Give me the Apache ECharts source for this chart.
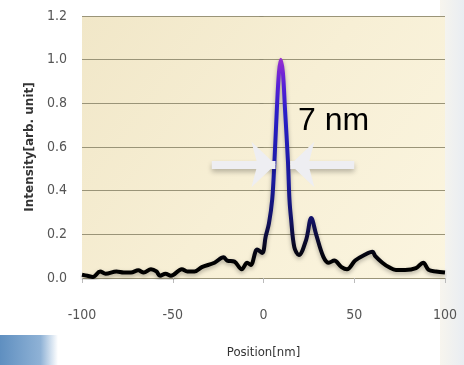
<!DOCTYPE html>
<html><head><meta charset="utf-8">
<script src="https://cdn.jsdelivr.net/npm/echarts@6/dist/echarts.min.js"></script>
<style>html,body{margin:0;padding:0;background:#fff}#c{width:464px;height:365px}</style>
</head><body><div id="c"></div>
<script>
// Position [nm]
const positions = [-100,-97,-94,-90,-87,-81,-77,-73,-69,-66,-62,-59,-57,-54,-51,-45,-42,-38,-34,-27,-22,-20,-16,-12,-9,-7,-3.5,-0.7,1.2,3,4.8,6,7.4,8.5,9.5,10.7,11.8,13.5,14.3,15.2,17,19.5,23.5,26.3,29,33,36,39,43,46,50.5,55.5,60,61.6,65.5,69,73,78,84,88,91,95,100];
// Intensity [arb. unit]
const intensity = [0.015,0.01,0.005,0.03,0.02,0.03,0.025,0.025,0.035,0.025,0.04,0.03,0.01,0.02,0.01,0.04,0.03,0.03,0.05,0.07,0.095,0.08,0.075,0.04,0.07,0.06,0.13,0.115,0.19,0.25,0.36,0.53,0.78,0.94,1.0,0.94,0.78,0.53,0.36,0.27,0.14,0.105,0.175,0.275,0.2,0.097,0.07,0.08,0.05,0.04,0.08,0.105,0.12,0.1,0.07,0.05,0.037,0.037,0.045,0.07,0.037,0.03,0.025];
const xTicks = [-100,-50,0,50,100];
const yTicks = [0,0.2,0.4,0.6,0.8,1.0,1.2];
const fwhmLevel = 0.52;
const fwhmLeft = 6.6, fwhmRight = 14.8;
const annotationText = '7 nm';

const chart = echarts.init(document.getElementById('c'), null, {renderer:'canvas'});
const lab = {color:'#555', fontFamily:"'Liberation Sans Narrow','DejaVu Sans Condensed','Open Sans',sans-serif", fontSize:14};
const option = {
  animation:false,
  backgroundColor:'#ffffff',
  graphic:[
    {type:'rect', z:-10, shape:{x:440,y:0,width:24,height:365}, style:{fill:new echarts.graphic.LinearGradient(0,0,1,0,[{offset:0,color:'#f7f5ee'},{offset:1,color:'#e9edf2'}])}},
    {type:'rect', z:-10, shape:{x:0,y:335,width:58,height:30}, style:{fill:new echarts.graphic.LinearGradient(0,0,1,0,[{offset:0,color:'#5f8fc0'},{offset:0.7,color:'#8fb2d6'},{offset:1,color:'#ffffff'}])}}
  ],
  grid:{left:82,right:19,top:16,bottom:87,show:true,borderWidth:0,
    backgroundColor:new echarts.graphic.LinearGradient(0,0,1,1,[{offset:0,color:'#f1e7c8'},{offset:0.5,color:'#f7efd5'},{offset:1,color:'#fbf5e0'}])},
  xAxis:{type:'value',min:-100,max:100,interval:50,
    axisLine:{show:false},
    axisTick:{show:true,length:5,lineStyle:{color:'#bbb'}},
    splitLine:{show:false},
    axisLabel:Object.assign({margin:30,formatter:v=>xTicks.includes(v)?String(v):''},lab),
    name:'Position[nm]',nameLocation:'middle',nameGap:68,
    nameTextStyle:{color:'#333',fontSize:13,fontFamily:"'Liberation Sans Narrow','DejaVu Sans Condensed','Open Sans',sans-serif"}},
  yAxis:{type:'value',min:0,max:1.2,interval:0.2,
    axisLine:{show:false},
    axisTick:{show:true,length:4,lineStyle:{color:'#8f8a70'}},
    splitLine:{show:true,lineStyle:{color:'#9a9478',width:1}},
    axisLabel:Object.assign({margin:15,formatter:v=>yTicks.some(t=>Math.abs(t-v)<1e-9)?v.toFixed(1):''},lab),
    name:'Intensity[arb. unit]',nameLocation:'middle',nameGap:46,
    nameTextStyle:{color:'#333',fontSize:12,fontWeight:'bold',fontFamily:"'DejaVu Sans','Open Sans',sans-serif"}},
  series:[{
    type:'line',
    data:positions.map((p,i)=>[p,intensity[i]]),
    smooth:0.35,
    showSymbol:false,
    lineStyle:{width:4,
      color:new echarts.graphic.LinearGradient(0,0,0,1,[
        {offset:0,color:'#9a2ed0'},{offset:0.12,color:'#5a20d8'},{offset:0.25,color:'#2a1ec8'},
        {offset:0.55,color:'#1a1aa0'},{offset:0.72,color:'#12126a'},{offset:0.85,color:'#080820'},{offset:0.93,color:'#000000'}]),
      shadowColor:'rgba(0,0,0,0.3)',shadowBlur:4,shadowOffsetY:2},
    markLine:{silent:true,symbol:['none','arrow'],symbolSize:[34,24],label:{show:false},
      lineStyle:{color:'#eeeef2',width:8,type:'solid',shadowColor:'rgba(0,0,0,0.25)',shadowBlur:5,shadowOffsetY:3},
      emphasis:{disabled:true},
      data:[
        [{coord:[-28.5,fwhmLevel]},{coord:[fwhmLeft,fwhmLevel]}],
        [{coord:[50,fwhmLevel]},{coord:[fwhmRight,fwhmLevel]}]
      ]},
    z:3
  }]
};
chart.setOption(option);
const tp = chart.convertToPixel({gridIndex:0},[19,0.72]);
chart.setOption({graphic:option.graphic.concat([
  {type:'text',z:10,x:tp[0],y:tp[1],style:{text:annotationText,fill:'#000',fontSize:32,fontFamily:"'Liberation Sans',Arial,sans-serif",verticalAlign:'middle',textAlign:'left'}}
])});
</script></body></html>
